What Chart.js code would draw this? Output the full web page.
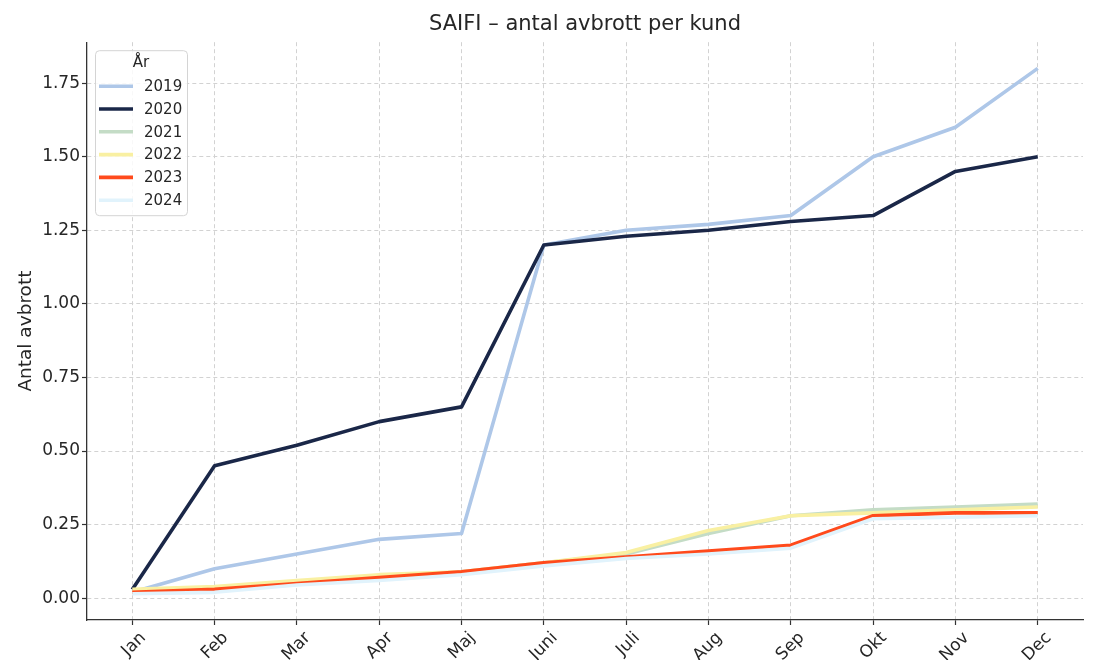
<!DOCTYPE html>
<html lang="sv">
<head>
<meta charset="utf-8">
<title>SAIFI – antal avbrott per kund</title>
<script src="https://cdn.jsdelivr.net/npm/chart.js@4.4.1/dist/chart.umd.min.js"></script>
<style>
  html, body { margin: 0; padding: 0; background: #fff; }
  #wrap { width: 1100px; height: 660px; }
</style>
</head>
<body>
<div id="wrap"><canvas id="saifi" width="1100" height="660"></canvas></div>
<script>
// ---- data ----
const months = ['Jan', 'Feb', 'Mar', 'Apr', 'Maj', 'Juni', 'Juli', 'Aug', 'Sep', 'Okt', 'Nov', 'Dec'];
const years = ['2019', '2020', '2021', '2022', '2023', '2024'];
const saifi2019 = [0.02, 0.10, 0.15, 0.20, 0.22, 1.20, 1.25, 1.27, 1.30, 1.50, 1.60, 1.80];
const saifi2020 = [0.03, 0.45, 0.52, 0.60, 0.65, 1.20, 1.23, 1.25, 1.28, 1.30, 1.45, 1.50];
const saifi2021 = [0.02, 0.03, 0.05, 0.07, 0.09, 0.12, 0.15, 0.22, 0.28, 0.30, 0.31, 0.32];
const saifi2022 = [0.03, 0.04, 0.06, 0.08, 0.09, 0.12, 0.155, 0.23, 0.28, 0.29, 0.30, 0.31];
const saifi2023 = [0.02, 0.03, 0.05, 0.07, 0.09, 0.12, 0.14, 0.16, 0.18, 0.28, 0.29, 0.29];
const saifi2024 = [0.015, 0.02, 0.045, 0.06, 0.08, 0.11, 0.135, 0.15, 0.17, 0.27, 0.275, 0.28];
const yTicks = [0, 0.25, 0.5, 0.75, 1.0, 1.25, 1.5, 1.75];

const series = [saifi2019, saifi2020, saifi2021, saifi2022, saifi2023, saifi2024];
const lineColors = ['#aec7e8', '#1a2748', '#c4dcc6', '#f9f0a2', '#ff4a1c', '#e1f3fc'];

const textColor = '#262626';
const gridColor = '#d2d2d2';
const axisColor = '#333333';

Chart.defaults.font.family = '"DejaVu Sans", sans-serif';
Chart.defaults.color = textColor;

// legend drawn inside the plot area, matplotlib style
const legendBox = {
    id: 'legendBox',
    afterDatasetsDraw(chart) {
        const { ctx, chartArea } = chart;
        const x = chartArea.left + 8, y = chartArea.top + 8, w = 92, h = 165;
        ctx.save();
        ctx.beginPath();
        ctx.roundRect(x + 0.5, y + 0.5, w, h, 4);
        ctx.fillStyle = 'rgba(255,255,255,0.85)';
        ctx.fill();
        ctx.strokeStyle = '#d4d4d4';
        ctx.lineWidth = 1;
        ctx.stroke();

        ctx.font = '15px "DejaVu Sans"';
        ctx.fillStyle = textColor;
        ctx.textBaseline = 'middle';
        ctx.textAlign = 'center';
        ctx.fillText('År', x + w / 2, y + 13);

        ctx.textAlign = 'left';
        chart.data.datasets.forEach((ds, i) => {
            const ly = y + 36 + i * 22.8;
            ctx.beginPath();
            ctx.moveTo(x + 4, ly);
            ctx.lineTo(x + 38, ly);
            ctx.strokeStyle = ds.borderColor;
            ctx.lineWidth = ds.borderWidth;
            ctx.stroke();
            ctx.fillText(ds.label, x + 49, ly + 1);
        });
        ctx.restore();
    }
};

const datasets = years.map((year, i) => ({
    label: year,
    data: series[i].map((v, idx) => ({ x: idx, y: v })),
    borderColor: lineColors[i],
    backgroundColor: lineColors[i],
    borderWidth: 3.6,
    pointRadius: 0,
    tension: 0,
    borderJoinStyle: 'round',
    order: years.length - 1 - i   // later years on top, like matplotlib
}));

new Chart(document.getElementById('saifi'), {
    type: 'line',
    data: { datasets },
    options: {
        responsive: false,
        animation: false,
        devicePixelRatio: 1,
        layout: { padding: { left: 0, right: 17, top: 0, bottom: 0 } },
        scales: {
            x: {
                type: 'linear',
                min: -0.55,
                max: 11.55,
                afterBuildTicks: (s) => { s.ticks = months.map((_, i) => ({ value: i })); },
                afterFit: (s) => { s.height = 40; },
                ticks: {
                    callback: (v) => months[v],
                    autoSkip: false,
                    maxRotation: 45,
                    minRotation: 45,
                    labelOffset: 11,
                    padding: 3,
                    font: { size: 17 },
                    color: textColor
                },
                grid: { color: gridColor, lineWidth: 1, tickColor: axisColor, tickLength: 5, tickWidth: 1.2 },
                border: { color: axisColor, width: 1.3, dash: [4, 3] }
            },
            y: {
                min: -0.074,
                max: 1.889,
                afterBuildTicks: (s) => { s.ticks = yTicks.map(v => ({ value: v })); },
                afterFit: (s) => { s.width = 87; },
                ticks: {
                    callback: (v) => v.toFixed(2),
                    padding: 2,
                    font: { size: 17 },
                    color: textColor
                },
                title: {
                    display: true,
                    text: 'Antal avbrott',
                    font: { size: 18.5 },
                    padding: { top: 15, bottom: 0 },
                    color: textColor
                },
                grid: { color: gridColor, lineWidth: 1, tickColor: axisColor, tickLength: 5, tickWidth: 1.2 },
                border: { color: axisColor, width: 1.3, dash: [4, 3] }
            }
        },
        plugins: {
            legend: { display: false },
            tooltip: { enabled: false },
            title: {
                display: true,
                fullSize: false,
                text: 'SAIFI – antal avbrott per kund',
                font: { size: 21, weight: 'normal' },
                padding: { top: 12, bottom: 5 },
                color: textColor
            }
        }
    },
    plugins: [legendBox]
});
</script>
</body>
</html>
